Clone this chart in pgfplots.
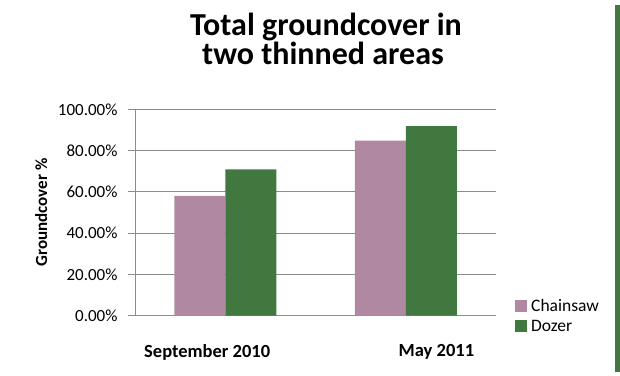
\documentclass[border=0pt]{standalone}
\usepackage{pgfplots}
\pgfplotsset{compat=1.18}
\usepackage{fontspec}
\setmainfont{Carlito}
\definecolor{chain}{RGB}{176,136,162}
\definecolor{dozer}{RGB}{64,120,64}
\definecolor{gridc}{RGB}{140,140,140}
\begin{document}
\begin{tikzpicture}[x=1pt,y=1pt]
\useasboundingbox (0pt,0pt) rectangle (620pt,375pt);
\fill[dozer] (615pt,3pt) rectangle (620pt,370pt);
\node[anchor=base,font=\fontsize{32}{32}\selectfont\bfseries] at (326pt,339pt) {Total groundcover in};
\node[anchor=base,font=\fontsize{32}{32}\selectfont\bfseries] at (323pt,310pt) {two thinned areas};
\begin{axis}[
  at={(135pt,59.3pt)}, anchor=south west,
  width=361pt, height=206.4pt, scale only axis,
  xmin=-0.5, xmax=1.5, ymin=0, ymax=100,
  ybar=0pt, bar width=51pt,
  xtick={-0.1,1.17}, xticklabels={September 2010,May 2011},
  xtick style={draw=none},
  xticklabel style={font=\fontsize{18.5}{18.5}\selectfont\bfseries, yshift=-18pt},
  ytick={0,20,...,100},
  yticklabel={\pgfmathprintnumber[fixed,fixed zerofill,precision=2]{\tick}\%},
  /pgf/number format/assume math mode=true,
  yticklabel style={font=\fontsize{17}{17}\selectfont, xshift=-7pt},
  ytick style={draw=gridc, thick},
  tick align=outside, major tick length=7pt,
  ymajorgrids, grid style={draw=gridc, thick},
  axis x line*=bottom, axis y line*=left,
  axis line style={draw=gridc, thick},
  ylabel={Groundcover \%},
  ylabel style={font=\fontsize{17}{17}\selectfont\bfseries, at={(-0.233,0.5)}},
  legend style={at={(1.0526,0.081)}, draw=none, fill=none, anchor=north west,
    font=\fontsize{17.5}{17.5}\selectfont, row sep=7pt, inner sep=0pt,
    nodes={inner xsep=0pt, inner ysep=0pt}},
  legend cell align=left,
  legend image code/.code={\fill[#1] (0pt,-5.5pt) rectangle (12pt,6.5pt);},
  /tikz/every even column/.append style={column sep=0pt},
  /tikz/every odd column/.append style={column sep=4pt},
  clip=false,
]
\addplot[fill=chain, draw=none] coordinates {(0,58.1) (1,84.8)};
\addplot[fill=dozer, draw=none] coordinates {(0,70.9) (1,91.8)};
\legend{Chainsaw,Dozer}
\end{axis}
\end{tikzpicture}
\end{document}
